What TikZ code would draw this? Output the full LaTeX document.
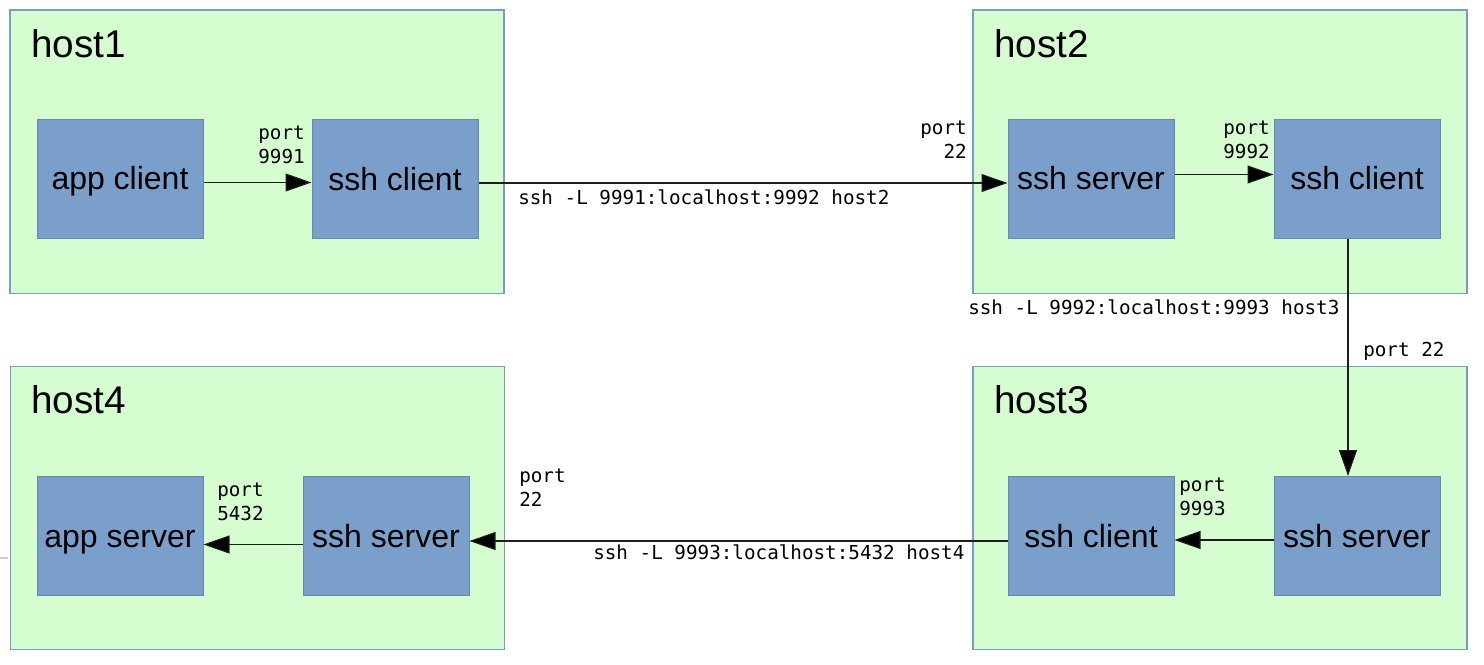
\documentclass[tikz,border=0pt]{standalone}
\usepackage{fontspec}
\setmainfont{Liberation Sans}
\newfontfamily\monofont{DejaVu Sans Mono}
\usetikzlibrary{arrows.meta,calc}
\definecolor{hostfill}{RGB}{213,253,208}
\definecolor{hostline}{RGB}{122,156,198}
\definecolor{boxfill}{RGB}{123,159,203}
\definecolor{boxline}{RGB}{104,135,178}
\definecolor{wire}{RGB}{30,30,30}
\begin{document}
\begin{tikzpicture}[x=0.75pt,y=-0.75pt,
 hostbox/.style={draw=hostline, fill=hostfill, line width=1pt, minimum width=370.5pt, minimum height=212.5pt, inner sep=0},
 hostname/.style={font=\fontsize{29}{34}\selectfont, anchor=base west, inner sep=0},
 procbox/.style={draw=boxline, fill=boxfill, line width=0.75pt, minimum width=124.5pt, minimum height=89.25pt, inner sep=0, text height=17.2pt, text depth=0pt, font=\fontsize{24}{28}\selectfont},
 portlbl/.style={font=\monofont\fontsize{14.45}{17.5}\selectfont, inner sep=0},
 wirearr/.style={draw=wire, line width=0.8pt, -{Triangle[length=19.5pt,width=13.5pt,fill=black]}},
]
\fill[white] (0,0) rectangle (1484,664);
\useasboundingbox (0,0) rectangle (1484,664);
\draw[gray!40, line width=1pt] (0,558) -- (8,558);
% hosts
\node[hostbox] (h1) at (257,151.5) {};
\node[hostbox] (h2) at (1220,151.5) {};
\node[hostbox] (h4) at (257.5,508) {};
\node[hostbox] (h3) at (1220,508) {};
\node[hostname] (n1) at (31,57) {host1};
\node[hostname] (n2) at (994,57) {host2};
\node[hostname] (n4) at (31,413) {host4};
\node[hostname] (n3) at (994,413) {host3};
% processes
\node[procbox] (ac) at (120,178.5) {app client};
\node[procbox] (sc1) at (395,179) {ssh client};
\node[procbox] (ss2) at (1091,178.5) {ssh server};
\node[procbox] (sc2) at (1357,178.5) {ssh client};
\node[procbox] (as4) at (120,536) {app server};
\node[procbox] (ss4) at (386,536) {ssh server};
\node[procbox] (sc3) at (1091,536) {ssh client};
\node[procbox] (ss3) at (1357,536) {ssh server};
% wires
\draw[wirearr] ($(ac.east)+(0,4)$) coordinate (w1) -- (w1 -| sc1.west);
\draw[wirearr] ($(sc1.east)+(0,4)$) coordinate (w2) -- (w2 -| ss2.west);
\draw[wirearr] ($(ss2.east)+(0,-4)$) coordinate (w3) -- (w3 -| sc2.west);
\draw[wirearr] ($(sc2.south)+(-9,0)$) coordinate (w4) -- (w4 |- ss3.north);
\draw[wirearr] ($(ss3.west)+(0,4)$) coordinate (w5) -- (w5 -| sc3.east);
\draw[wirearr] ($(sc3.west)+(0,5)$) coordinate (w6) -- (w6 -| ss4.east);
\draw[wirearr] ($(ss4.west)+(0,8.5)$) coordinate (w7) -- (w7 -| as4.east);
% labels
\node[portlbl, anchor=base east, align=right] (p1) at (305,163) {port\\9991};
\node[portlbl, anchor=base east, align=right] (p2) at (967,158) {port\\22};
\node[portlbl, anchor=base east, align=right] (p3) at (1270,158) {port\\9992};
\node[portlbl, anchor=base west] (c1) at (518,204) {ssh -L 9991:localhost:9992 host2};
\node[portlbl, anchor=base west] (c2) at (968,314) {ssh -L 9992:localhost:9993 host3};
\node[portlbl, anchor=base west] (p4) at (1363,356) {port 22};
\node[portlbl, anchor=base west, align=left] (p5) at (1179,515) {port\\9993};
\node[portlbl, anchor=base west, align=left] (p6) at (519,506) {port\\22};
\node[portlbl, anchor=base west] (c3) at (593,559) {ssh -L 9993:localhost:5432 host4};
\node[portlbl, anchor=base west, align=left] (p7) at (217,520) {port\\5432};
\end{tikzpicture}
\end{document}
